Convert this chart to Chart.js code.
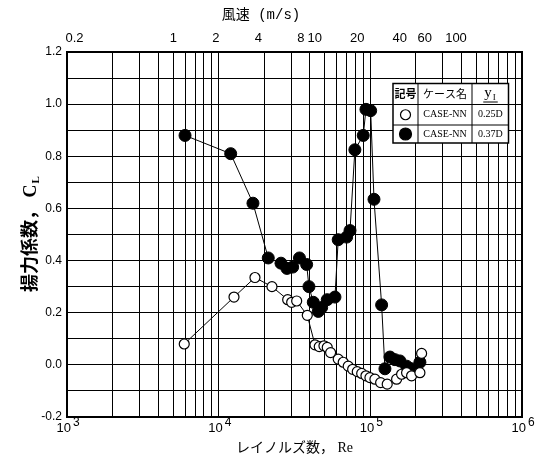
<!DOCTYPE html>
<html>
<head>
<meta charset="utf-8">
<script src="https://cdn.jsdelivr.net/npm/chart.js@4"></script>
<style>
  body { margin: 0; background: #fff; }
  #wrap { width: 543px; height: 460px; }
</style>
</head>
<body>
<div id="wrap"><canvas id="myChart" width="543" height="460"></canvas></div>
<script>
// Reynolds number and lift coefficient
var reOpen = [5930, 12620, 17350, 22460, 28510, 30290, 32680, 38390, 43150, 46050,
              49450, 52000, 54710, 61400, 66250, 71470, 76440, 82000, 87700, 93550,
              99400, 107200, 116900, 129200, 149000, 160700, 173400, 187100, 212300, 217800];
var clOpen = [0.08, 0.26, 0.335, 0.30, 0.25, 0.24, 0.245, 0.19, 0.077, 0.07,
              0.073, 0.067, 0.047, 0.022, 0.01, -0.005, -0.017, -0.026, -0.033, -0.042,
              -0.049, -0.055, -0.068, -0.074, -0.055, -0.036, -0.03, -0.042, -0.03, 0.044];

var reFilled = [6000, 12000, 16830, 21230, 25760, 28200, 30750, 34100, 38020, 39380,
                42050, 45380, 47750, 52000, 58450, 61400, 69800, 73450, 79100, 89800,
                93550, 100500, 105700, 118700, 124800, 134700, 145300, 156700, 173400, 187100,
                196800, 212300];
var clFilled = [0.88, 0.81, 0.62, 0.41, 0.39, 0.37, 0.375, 0.41, 0.385, 0.30,
                0.24, 0.205, 0.22, 0.25, 0.26, 0.48, 0.49, 0.515, 0.825, 0.88,
                0.98, 0.975, 0.635, 0.23, -0.015, 0.03, 0.02, 0.015, -0.005, -0.015,
                -0.02, 0.01];

// axes
var reMajor = [1e3, 1e4, 1e5, 1e6];
var reExp = ['3', '4', '5', '6'];
var speedTicks = [0.2, 1, 2, 4, 8, 10, 20, 40, 60, 100];
var speedMin = 0.177, speedMax = 293;
var yMin = -0.2, yMax = 1.2;

var legendRows = [
  { name: 'CASE-NN', yi: '0.25D', filled: false },
  { name: 'CASE-NN', yi: '0.37D', filled: true }
];

var reGrid = [];
for (var i = 0; i < reMajor.length - 1; i++) {
  for (var m = 1; m < 10; m++) reGrid.push(m * reMajor[i]);
}
reGrid.push(reMajor[reMajor.length - 1]);

function pts(xs, ys) {
  return xs.map(function(x, i) { return { x: x, y: ys[i] }; });
}

var extras = {
  id: 'extras',
  afterDraw: function(chart) {
    var ctx = chart.ctx;
    var ca = chart.chartArea;
    var xs = chart.scales.x;
    ctx.save();

    // frame
    ctx.strokeStyle = '#000';
    ctx.lineWidth = 2;
    ctx.strokeRect(ca.left, ca.top, ca.right - ca.left, ca.bottom - ca.top);

    // bottom tick labels 10^n
    ctx.fillStyle = '#000';
    ctx.textBaseline = 'alphabetic';
    reMajor.forEach(function(v, i) {
      var px = xs.getPixelForValue(v);
      ctx.font = '13px "Liberation Sans"';
      ctx.textAlign = 'right';
      ctx.fillText('10', px + 4, 432);
      ctx.textAlign = 'left';
      ctx.font = '12px "Liberation Sans"';
      ctx.fillText(reExp[i], px + 6, 426);
    });

    // top title
    ctx.textAlign = 'center';
    ctx.textBaseline = 'middle';
    ctx.font = '14px "Liberation Mono", "Noto Sans CJK JP"';
    ctx.fillText('風速 (m/s)', 261, 15);

    // y title with subscript
    ctx.save();
    ctx.translate(30, (ca.top + ca.bottom) / 2);
    ctx.rotate(-Math.PI / 2);
    var main = '揚力係数， C';
    ctx.font = 'bold 18px "Liberation Serif", "Noto Sans CJK JP"';
    var w1 = ctx.measureText(main).width;
    ctx.font = 'bold 11px "Liberation Serif"';
    var w2 = ctx.measureText('L').width;
    var x0 = -(w1 + w2) / 2;
    ctx.textAlign = 'left';
    ctx.textBaseline = 'alphabetic';
    ctx.font = 'bold 18px "Liberation Serif", "Noto Sans CJK JP"';
    ctx.fillText(main, x0, 6);
    ctx.font = 'bold 11px "Liberation Serif"';
    ctx.fillText('L', x0 + w1 + 1, 9);
    ctx.restore();

    // legend table
    var L = 393, T = 83.5, R = 508.5, B = 143;
    var rowY = [T, 104.5, 125, B];
    var c1 = 418, c2 = 472;
    ctx.fillStyle = '#fff';
    ctx.fillRect(L, T, R - L, B - T);
    ctx.strokeStyle = '#000';
    ctx.lineWidth = 1;
    ctx.beginPath();
    ctx.moveTo(c1, T); ctx.lineTo(c1, B);
    ctx.moveTo(c2, T); ctx.lineTo(c2, B);
    ctx.moveTo(L, rowY[1]); ctx.lineTo(R, rowY[1]);
    ctx.moveTo(L, rowY[2]); ctx.lineTo(R, rowY[2]);
    ctx.stroke();
    ctx.lineWidth = 1.5;
    ctx.strokeRect(L, T, R - L, B - T);

    ctx.fillStyle = '#000';
    ctx.textAlign = 'center';
    ctx.textBaseline = 'middle';
    var hy = (rowY[0] + rowY[1]) / 2;
    ctx.font = 'bold 11px "Noto Sans CJK JP"';
    ctx.fillText('記号', (L + c1) / 2, hy);
    ctx.font = '11px "Noto Sans CJK JP"';
    ctx.fillText('ケース名', (c1 + c2) / 2, hy);
    // y_I header
    ctx.textAlign = 'left';
    ctx.textBaseline = 'alphabetic';
    ctx.font = '15px "Liberation Serif"';
    var yw = ctx.measureText('y').width;
    var hx = (c2 + R) / 2 - 6;
    ctx.fillText('y', hx, hy + 3);
    ctx.font = '9px "Liberation Serif"';
    ctx.fillText('I', hx + yw + 1, hy + 6);
    ctx.beginPath();
    ctx.lineWidth = 1;
    ctx.moveTo(hx - 1, hy + 8); ctx.lineTo(hx + yw + 6, hy + 8);
    ctx.stroke();

    legendRows.forEach(function(r, i) {
      var cy = (rowY[i + 1] + rowY[i + 2]) / 2;
      ctx.beginPath();
      ctx.arc((L + c1) / 2, cy, r.filled ? 6 : 5, 0, Math.PI * 2);
      ctx.fillStyle = r.filled ? '#000' : '#fff';
      ctx.fill();
      ctx.lineWidth = 1.2;
      ctx.stroke();
      ctx.fillStyle = '#000';
      ctx.textAlign = 'center';
      ctx.textBaseline = 'middle';
      ctx.font = '10px "Liberation Serif"';
      ctx.fillText(r.name, (c1 + c2) / 2, cy);
      ctx.fillText(r.yi, (c2 + R) / 2, cy);
    });

    ctx.restore();
  }
};

var ctx = document.getElementById('myChart').getContext('2d');
var myChart = new Chart(ctx, {
  type: 'scatter',
  data: {
    datasets: [{
      label: '0.25D',
      data: pts(reOpen, clOpen),
      showLine: true,
      borderColor: '#000',
      borderWidth: 1,
      pointRadius: 5,
      pointBackgroundColor: '#fff',
      pointBorderColor: '#000',
      pointBorderWidth: 1.2
    }, {
      label: '0.37D',
      data: pts(reFilled, clFilled),
      showLine: true,
      borderColor: '#000',
      borderWidth: 1,
      pointRadius: 6,
      pointBackgroundColor: '#000',
      pointBorderColor: '#000',
      pointBorderWidth: 1
    }]
  },
  options: {
    responsive: false,
    animation: false,
    layout: { padding: { left: 0, right: 21, top: 0, bottom: 0 } },
    plugins: { legend: { display: false }, tooltip: { enabled: false } },
    scales: {
      x: {
        type: 'logarithmic',
        position: 'bottom',
        min: 1e3,
        max: 1e6,
        afterBuildTicks: function(axis) { axis.ticks = reGrid.map(function(v) { return { value: v }; }); },
        afterFit: function(axis) { axis.height = 43; },
        ticks: { autoSkip: false, maxRotation: 0, callback: function() { return ''; } },
        grid: { color: '#000', lineWidth: 1, drawTicks: false },
        border: { display: false },
        title: {
          display: true,
          text: 'レイノルズ数， Re',
          color: '#000',
          font: { family: '"Liberation Serif", "Noto Sans CJK JP"', size: 14 },
          padding: { top: 0, bottom: 3 }
        }
      },
      x2: {
        type: 'logarithmic',
        position: 'top',
        min: speedMin,
        max: speedMax,
        afterBuildTicks: function(axis) { axis.ticks = speedTicks.map(function(v) { return { value: v }; }); },
        afterFit: function(axis) { axis.height = 52; },
        ticks: {
          autoSkip: false, maxRotation: 0, padding: 6, color: '#000',
          font: { family: '"Liberation Sans"', size: 13 },
          callback: function(v) { return String(v); }
        },
        grid: { display: false, drawTicks: false },
        border: { display: false }
      },
      y: {
        min: yMin,
        max: yMax,
        afterFit: function(axis) { axis.width = 67; },
        ticks: {
          stepSize: 0.1, padding: 5, color: '#000',
          font: { family: '"Liberation Sans"', size: 12 },
          callback: function(v) {
            var k = Math.round(v * 10);
            return k % 2 === 0 ? (k / 10).toFixed(1).replace('-0.0', '0.0') : '';
          }
        },
        grid: { color: '#000', lineWidth: 1, drawTicks: false },
        border: { display: false }
      }
    }
  },
  plugins: [extras]
});
</script>
</body>
</html>
